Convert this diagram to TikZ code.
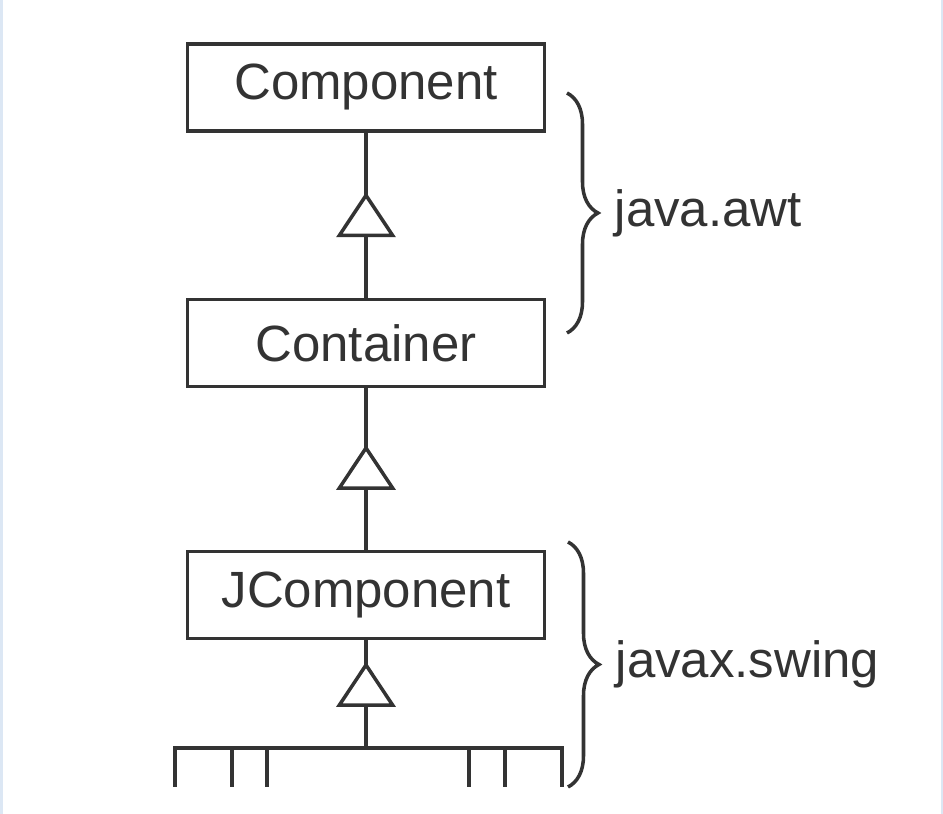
\documentclass[tikz,border=0pt]{standalone}
\usepackage{fontspec}
\setmainfont{Liberation Sans}
\usetikzlibrary{positioning,arrows.meta,decorations.markings,decorations.pathreplacing}
\definecolor{inkgray}{HTML}{333333}
\definecolor{edgeblue}{HTML}{DCE7F4}
\begin{document}
\begin{tikzpicture}[
	every node/.style={font=\fontsize{14.5}{17}\selectfont, text=inkgray},
	classbox/.style={shape=rectangle, draw=inkgray, line width=1pt, fill=white, minimum width=3.57cm, minimum height=0.87cm, inner sep=0},
	umlline/.style={draw=inkgray, line width=1pt},
	inherit/.style={umlline, postaction={decorate}, decoration={markings, mark=at position #1 with {\arrow[line width=1pt]{Triangle[length=0.45cm, width=0.59cm, fill=white]}}}},
	pkgbrace/.style={umlline, decorate, decoration={brace, amplitude=0.31cm}},
	pkglabel/.style={anchor=west, xshift=0.46cm, inner sep=0},
]
\fill[white] (0,0) rectangle (9.43,8.14);
\fill[edgeblue] (0,0) rectangle (0.03,8.14);
\fill[edgeblue] (9.41,0) rectangle (9.43,8.14);
\useasboundingbox (0,0) rectangle (9.43,8.14);

\node[classbox] (comp) at (3.66,7.265) {Component};
\node[classbox, below=1.65cm of comp] (cont) {Container};
\node[classbox, below=1.615cm of cont] (jcomp) {JComponent};
\coordinate (bar) at (3.66,0.66);

\draw[inherit=0.64] (cont.north) -- (comp.south);
\draw[inherit=0.65] (jcomp.north) -- (cont.south);
\draw[inherit=0.80] (bar) -- (jcomp.south);

\draw[umlline] (1.75,0.27) -- (1.75,0.66) -- (5.62,0.66) -- (5.62,0.27);
\foreach \x in {2.32,2.67,4.69,5.05}
	\draw[umlline] (\x,0.66) -- (\x,0.27);

\coordinate (awttop) at (5.67,7.21);
\coordinate (awtbot) at (5.67,4.81);
\coordinate (swingtop) at (5.68,2.72);
\coordinate (swingbot) at (5.68,0.27);
\draw[pkgbrace] (awttop) -- node[pkglabel] (awt) {java.awt} (awtbot);
\draw[pkgbrace] (swingtop) -- node[pkglabel] (swing) {javax.swing} (swingbot);
\end{tikzpicture}
\end{document}
